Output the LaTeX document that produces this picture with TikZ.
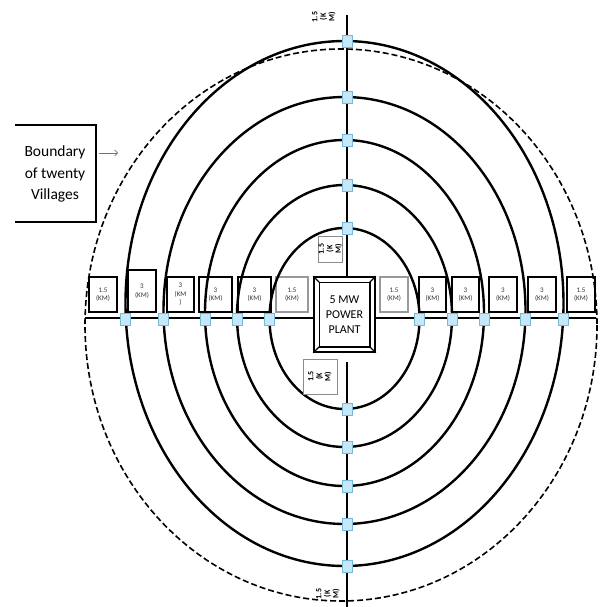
\documentclass[tikz,border=0pt]{standalone}
\usepackage{fontspec}
\setmainfont{Carlito}
\usetikzlibrary{arrows.meta,calc}
\definecolor{jointfill}{RGB}{196,232,247}
\definecolor{jointdraw}{RGB}{120,185,215}

\begin{document}
\begin{tikzpicture}[x=1pt, y=-1pt,
  ring/.style={line width=2.4pt},
  border/.style={line width=1.6pt, dash pattern=on 6pt off 3pt},
  axis/.style={line width=2.2pt},
  kmbox/.style={draw, line width=1.3pt, fill=white, inner sep=0pt, align=center,
    text=black!80, font=\fontsize{7}{8.5}\selectfont, minimum width=28pt, minimum height=35pt},
  kmpale/.style={kmbox, draw=black!40},
  vlabel/.style={rotate=90, align=center, inner sep=0pt,
    font=\bfseries\fontsize{8}{8.5}\selectfont},
  joint/.style={draw=jointdraw, fill=jointfill, line width=0.6pt,
    minimum width=10pt, minimum height=12pt, inner sep=0pt},
  plantbox/.style={draw, line width=1.6pt, fill=white, minimum width=61pt,
    minimum height=75pt, align=center, font=\fontsize{12}{15}\selectfont}
]
  \useasboundingbox (0,0) rectangle (603,607);

  % legend box
  \node[align=center, font=\fontsize{15.5}{21.5}\selectfont] (legend) at (55,174)
    {Boundary\\of twenty\\Villages};
  \draw[line width=1.4pt] (15,125) -- (96,125) -- (96,222) -- (15,222);
  \coordinate (legtip) at (118,153);
  \draw[black!55, line width=0.7pt, -{Straight Barb[length=3pt]}] (99,153) -- (legtip);

  % distance boxes along the horizontal feeder
  \node[kmbox] (k1) at (103,294.5) {1.5\\(KM)};
  \node[kmbox, minimum height=42pt] (k2) at (142,291) {3\\(KM)};
  \node[kmbox, minimum width=27pt] (k3) at (180.5,294.5) {3\\(KM\\)};
  \node[kmbox, minimum width=33pt] (k4) at (215.5,294.5) {3\\(KM)};
  \node[kmbox, minimum width=33pt] (k5) at (254.5,294.5) {3\\(KM)};
  \node[kmpale, minimum width=32pt] (k6) at (292,294.5) {1.5\\(KM)};
  \node[kmpale] (k7) at (394,294.5) {1.5\\(KM)};
  \node[kmbox, minimum width=27pt] (k8) at (432.5,294.5) {3\\(KM)};
  \node[kmbox, minimum width=27pt] (k9) at (465.5,294.5) {3\\(KM)};
  \node[kmbox] (k10) at (503,294.5) {3\\(KM)};
  \node[kmbox] (k11) at (542,294.5) {3\\(KM)};
  \node[kmbox] (k12) at (581,294.5) {1.5\\(KM)};

  % boundary and rings
  \draw[border] (341,325) ellipse [x radius=256, y radius=276];
  \foreach \cy/\rx/\ry in {318.5/75/90.5, 316/107.5/131, 313/139.5/173,
                           310.5/181/213.5, 303.5/219/262.5}
    \draw[ring] (344.5,\cy) ellipse [x radius=\rx, y radius=\ry];

  % power plant and feeders
  \node[plantbox] (plant) at (344.5,314.5) {5 MW\\POWER\\PLANT};
  \coordinate (wend) at (85,318);
  \coordinate (eend) at (596,318);
  \coordinate (nend) at (347,15);
  \coordinate (send) at (347,607);
  \coordinate (sstart) at (347,362);
  \draw[axis, line width=2.8pt] (wend) -- (plant.west |- wend);
  \draw[axis, line width=2.8pt] (plant.east |- eend) -- (eend);
  \draw[axis] (nend) -- (plant.north -| nend);
  \draw[axis] (sstart) -- (send);

  % plant frame
  \draw[line width=1.4pt] ([shift={(6,6)}]plant.north west)
    rectangle ([shift={(-6,-6)}]plant.south east);
  \draw[line width=1.2pt] (plant.north west) -- ++(6,6);
  \draw[line width=1.2pt] (plant.north east) -- ++(-6,6);
  \draw[line width=1.2pt] (plant.south west) -- ++(6,-6);
  \draw[line width=1.2pt] (plant.south east) -- ++(-6,-6);

  % joints where rings meet feeders
  \foreach \cy/\rx/\ry [count=\n] in {318.5/75/90.5, 316/107.5/131, 313/139.5/173,
                                      310.5/181/213.5, 303.5/219/262.5} {
    \node[joint] (w\n) at (344.5-\rx,319) {};
    \node[joint] (e\n) at (344.5+\rx,319) {};
    \node[joint] (n\n) at (347,\cy-\ry) {};
    \node[joint] (s\n) at (347,\cy+\ry) {};
  }

  % vertical distance labels
  \node[vlabel] (ntop) at (324,17) {1.5\\(K\\M)};
  \node[vlabel, draw=black!45, line width=1pt, fill=white, minimum width=26pt,
    minimum height=21pt] (nmid) at (330.5,249) {1.5\\(K\\M)};
  \node[vlabel, draw=black!45, line width=1pt, fill=white, minimum width=35pt,
    minimum height=34pt] (smid) at (320,376.5) {1.5\\(K\\M)};
  \node[vlabel] (sbot) at (328,594) {1.5\\(K\\M)};
\end{tikzpicture}
\end{document}
